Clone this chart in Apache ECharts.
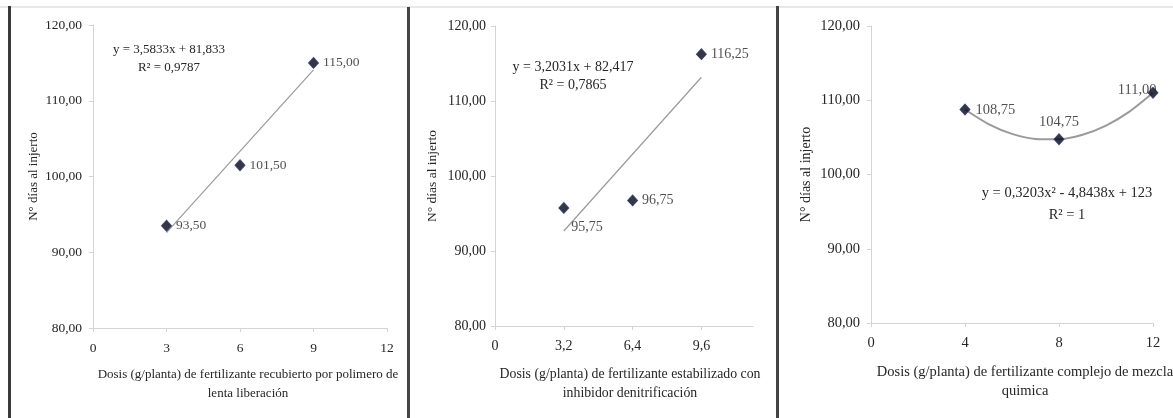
<!DOCTYPE html>
<html>
<head>
<meta charset="utf-8">
<script src="https://cdn.jsdelivr.net/npm/echarts@6/dist/echarts.min.js"></script>
<style>
html,body{margin:0;padding:0;background:#fff;}
#c{width:1173px;height:418px;}
</style>
</head>
<body>
<div id="c"></div>
<script>
// ---- data ----
const yTitle = 'N° días al injerto';
const yTicks = [80, 90, 100, 110, 120];

const x1 = [3, 6, 9];
const y1 = [93.50, 101.50, 115.00];
const trend1 = [[3, 92.58], [9, 114.08]];
const eq1 = ['y = 3,5833x + 81,833', 'R² = 0,9787'];
const xTitle1 = 'Dosis (g/planta) de fertilizante recubierto por polimero de\nlenta liberación';
const xTicks1 = [0, 3, 6, 9, 12];

const x2 = [3.2, 6.4, 9.6];
const y2 = [95.75, 96.75, 116.25];
const trend2 = [[3.2, 92.67], [9.6, 113.17]];
const eq2 = ['y = 3,2031x + 82,417', 'R² = 0,7865'];
const xTitle2 = 'Dosis (g/planta) de fertilizante estabilizado con\ninhibidor denitrificación';
const xTicks2 = [0, 3.2, 6.4, 9.6];

const x3 = [4, 8, 12];
const y3 = [108.75, 104.75, 111.00];
const trend3 = [[4, 108.75], [5, 106.79], [6, 105.47], [7, 104.79], [8, 104.75], [9, 105.35], [10, 106.59], [11, 108.47], [12, 111.00]];
const eq3 = ['y = 0,3203x² - 4,8438x + 123', 'R² = 1'];
const xTitle3 = 'Dosis (g/planta) de fertilizante complejo de mezcla\nquimica';
const xTicks3 = [0, 4, 8, 12];

// ---- styling helpers ----
const FONT = '"Liberation Serif", "DejaVu Serif", serif';
const AX = '#d4d4d4';
const TXT = '#262626';
const comma = v => String(v).replace('.', ',');

function yAxis(gi, gap, margin, fs, tfs) {
  return {
    type: 'value', gridIndex: gi, min: 80, max: 120, interval: 10,
    name: yTitle, nameLocation: 'middle', nameRotate: 90, nameGap: gap,
    nameTextStyle: {fontFamily: FONT, fontSize: fs, color: TXT},
    axisLine: {show: true, lineStyle: {color: AX, width: 1}},
    axisTick: {show: true, length: 4, lineStyle: {color: AX}, customValues: yTicks},
    axisLabel: {fontFamily: FONT, fontSize: tfs, color: TXT, margin: margin, customValues: yTicks,
      formatter: v => v.toFixed(2).replace('.', ',')},
    splitLine: {show: false}
  };
}
function xAxis(gi, max, ticks, title, gap, shift, fs, tfs) {
  return {
    type: 'value', gridIndex: gi, min: 0, max: max,
    name: title, nameLocation: 'middle', nameGap: gap,
    nameTextStyle: {fontFamily: FONT, fontSize: fs, color: TXT, lineHeight: 19,
      padding: [0, 0, 0, shift]},
    axisLine: {show: true, onZero: false, lineStyle: {color: AX, width: 1}},
    axisTick: {show: true, length: 4, lineStyle: {color: AX}, customValues: ticks},
    axisLabel: {fontFamily: FONT, fontSize: tfs, color: TXT, margin: 13,
      customValues: ticks, formatter: v => comma(v)},
    splitLine: {show: false}
  };
}
function pts(gi, xs, ys, labelCfg, fs) {
  return {
    type: 'scatter', xAxisIndex: gi, yAxisIndex: gi, z: 5,
    symbol: 'diamond', symbolSize: [10, 11],
    itemStyle: {color: '#05050f', borderColor: '#1e3578', borderWidth: 1},
    data: xs.map((x, i) => ({
      value: [x, ys[i]],
      label: Object.assign({show: true, fontFamily: FONT, fontSize: fs, color: TXT,
        formatter: p => p.value[1].toFixed(2).replace('.', ',')}, labelCfg[i])
    }))
  };
}
function trend(gi, d, smooth, w) {
  return {
    type: 'line', xAxisIndex: gi, yAxisIndex: gi, z: 3, smooth: smooth,
    showSymbol: false, symbol: 'none', silent: true,
    lineStyle: {color: '#9a9a9a', width: w}, data: d
  };
}
function eqText(lines, x, y, dy, fs) {
  return lines.map((t, i) => ({
    type: 'text', x: x, y: y + i * dy, z: 10,
    style: {text: t, fontFamily: FONT, fontSize: fs, fill: TXT, align: 'center', verticalAlign: 'middle'}
  }));
}

const chart = echarts.init(document.getElementById('c'));
chart.setOption({
  animation: false,
  backgroundColor: '#fff',
  grid: [
    {left: 93, top: 25, width: 294, height: 303, outerBoundsMode: 'none', containLabel: false},
    {left: 495, top: 26, width: 258, height: 300, outerBoundsMode: 'none', containLabel: false},
    {left: 871, top: 26, width: 282, height: 297, outerBoundsMode: 'none', containLabel: false}
  ],
  xAxis: [
    xAxis(0, 12, xTicks1, xTitle1, 37, 16, 13, 13.5),
    xAxis(1, 12, xTicks2, xTitle2, 39, 12, 13.8, 14),
    xAxis(2, 12, xTicks3, xTitle3, 40, 26, 14.5, 14.5)
  ],
  yAxis: [yAxis(0, 53, 11, 13, 13.5), yAxis(1, 56, 9, 13.5, 14), yAxis(2, 58, 11, 14, 14.5)],
  series: [
    trend(0, trend1, false, 1.2),
    pts(0, x1, y1, [{position: 'right', distance: 4}, {position: 'right', distance: 4}, {position: 'right', distance: 4}], 13.5),
    trend(1, trend2, false, 1.2),
    pts(1, x2, y2, [{position: 'right', distance: 2, offset: [0, 19]}, {position: 'right', distance: 4}, {position: 'right', distance: 4}], 14),
    trend(2, trend3, 0.25, 2),
    pts(2, x3, y3, [{position: 'right', distance: 5, offset: [0, 1]}, {position: 'top', distance: 4}, {position: 'left', distance: 0, offset: [9, -3]}], 14.5)
  ],
  graphic: [
    // frame lines
    {type: 'line', shape: {x1: 0, y1: 7, x2: 1173, y2: 7}, style: {stroke: '#e8e8e8', lineWidth: 2}},
    {type: 'line', shape: {x1: 9.5, y1: 6, x2: 9.5, y2: 418}, style: {stroke: '#3a3a3a', lineWidth: 3}},
    {type: 'line', shape: {x1: 408.5, y1: 7, x2: 408.5, y2: 418}, style: {stroke: '#444', lineWidth: 3}},
    {type: 'line', shape: {x1: 777.5, y1: 6, x2: 777.5, y2: 418}, style: {stroke: '#444', lineWidth: 3}}
  ].concat(
    eqText(eq1, 169, 50, 18, 13),
    eqText(eq2, 573, 67, 18, 14),
    eqText(eq3, 1067, 193, 22, 14.5)
  )
});
</script>
</body>
</html>
